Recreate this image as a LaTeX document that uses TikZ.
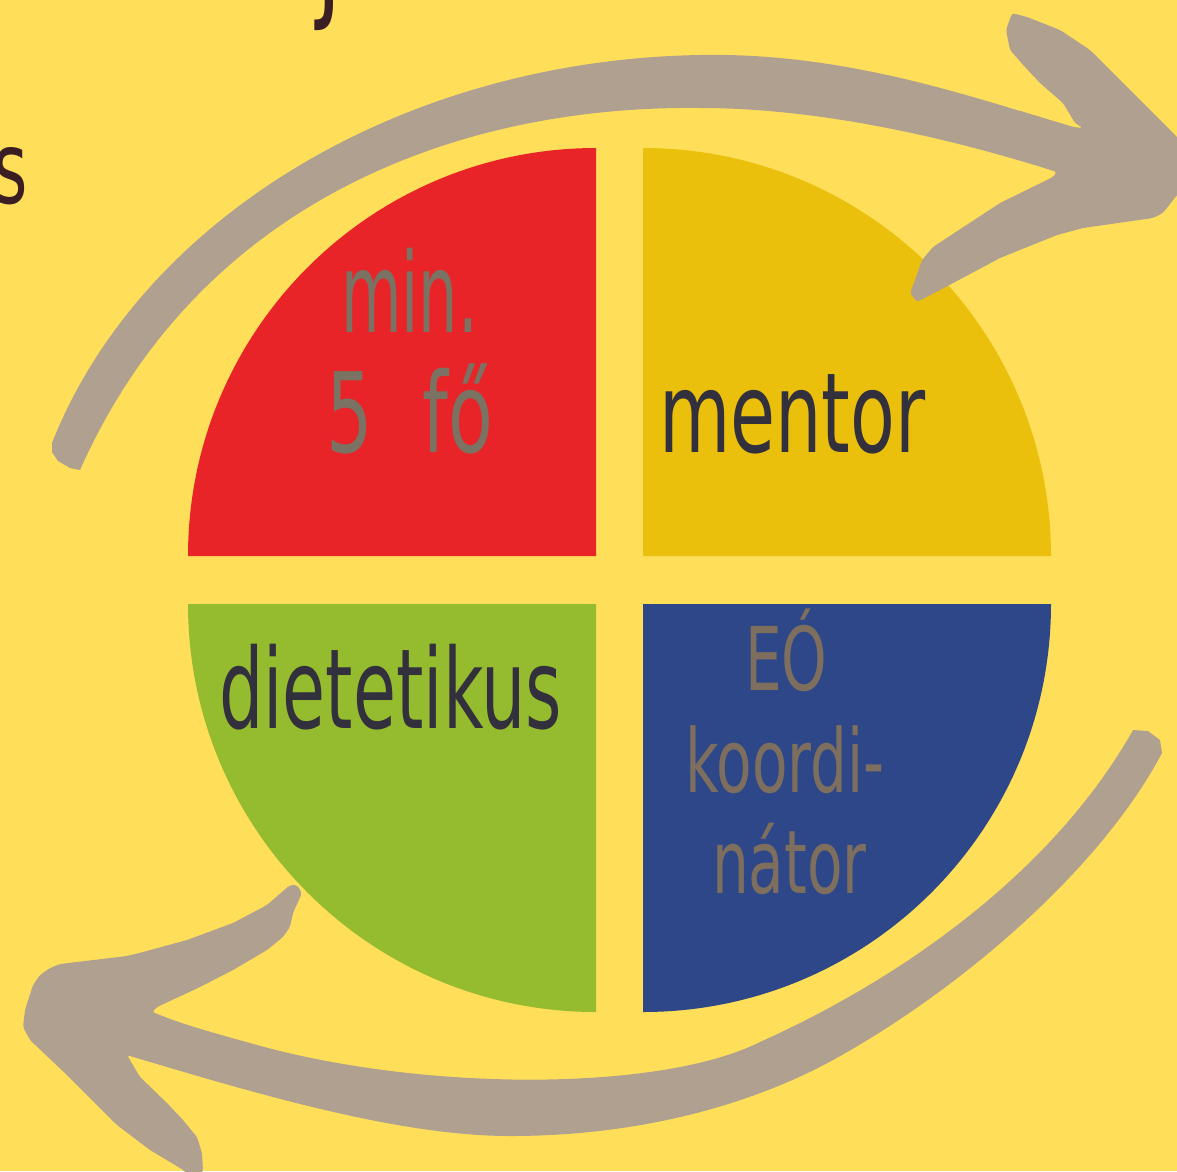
\documentclass[tikz,border=0pt]{standalone}
\usepackage{fontspec}
\newfontfamily\handA{DejaVu Sans}[FakeStretch=0.66]
\newfontfamily\handB{DejaVu Sans}[FakeStretch=0.56]
\newfontfamily\handC{DejaVu Sans}[FakeStretch=0.63]
\definecolor{bg}{HTML}{FFDE59}
\definecolor{qred}{HTML}{E92429}
\definecolor{qyellow}{HTML}{EAC00C}
\definecolor{qgreen}{HTML}{95BB2F}
\definecolor{qblue}{HTML}{2D4788}
\definecolor{arrowc}{HTML}{B0A090}
\definecolor{txtgray}{HTML}{7A7262}
\definecolor{txtdark}{HTML}{33303D}
\definecolor{txtbrown}{HTML}{7D6E5E}
\definecolor{titlec}{HTML}{3B1E24}
\begin{document}
\begin{tikzpicture}[x=1pt,y=-1pt,
  lbl/.style={anchor=base west,inner sep=0pt,outer sep=0pt},
  big/.style={font=\handA\fontsize{111}{120}\selectfont},
  small/.style={font=\handA\fontsize{88}{100}\selectfont},
  arrowshape/.style={fill=arrowc,draw=none}]
\useasboundingbox (0,0) rectangle (1177,1171);
\fill[bg] (0,0) rectangle (1177,1171);

% quadrants
\fill[qred] (188,556) arc[start angle=180,end angle=270,radius=408] -- (596,556) -- cycle;
\fill[qyellow] (643,148) arc[start angle=270,end angle=360,radius=408] -- (643,556) -- cycle;
\fill[qgreen] (188,604) arc[start angle=180,end angle=90,radius=408] -- (596,604) -- cycle;
\fill[qblue] (643,1012) arc[start angle=90,end angle=0,radius=408] -- (643,604) -- cycle;

% top arrow shaft
\fill[arrowshape] (52,443) .. controls (140,220) and (400,60) .. (700,55)
  .. controls (850,52) and (980,100) .. (1073,127)
  -- (1057,172)
  .. controls (950,138) and (820,108) .. (700,108)
  .. controls (460,105) and (200,200) .. (80,470)
  -- (70,468) -- (58,461) -- (52,452) -- cycle;
% top arrow head
\fill[arrowshape,rounded corners=3pt] (1083,128) -- (1075,123) -- (1063,103) -- (1040,83) -- (1025,67) -- (1010,50) -- (1006,30) -- (1012,13) -- (1027,17) -- (1060,30) -- (1090,50) -- (1127,87) -- (1177,137) -- (1195,160) -- (1185,190) -- (1177,195) -- (1163,213) -- (1153,218) -- (1083,228) -- (1057,235) -- (1000,258) -- (940,290) -- (917,302) -- (910,293) -- (915,280) -- (922,260) -- (933,247) -- (1000,203) -- (1053,177) -- (1057,172) -- (1020,158) -- (1017,110) -- (1073,127) -- cycle;

% bottom arrow shaft
\fill[arrowshape] (127,1055) .. controls (260,1095) and (400,1136) .. (510,1136)
  .. controls (650,1136) and (760,1100) .. (833,1060)
  .. controls (960,990) and (1100,870) .. (1162,753)
  -- (1160,740) -- (1148,731) -- (1133,730)
  .. controls (1060,860) and (920,970) .. (760,1042)
  .. controls (660,1092) and (420,1092) .. (250,1043)
  .. controls (210,1032) and (175,1022) .. (152,1012)
  -- cycle;
% bottom arrow head
\fill[arrowshape,rounded corners=3pt] (152,1012) -- (157,1007) -- (200,987) -- (233,970) -- (267,950) -- (283,937) -- (290,927) -- (293,913) -- (302,893) -- (297,885) -- (290,885) -- (267,905) -- (233,923) -- (187,940) -- (143,952) -- (127,956) -- (60,964) -- (50,968) -- (40,975) -- (33,985) -- (25,1010) -- (23,1027) -- (30,1040) -- (67,1075) -- (117,1125) -- (150,1150) -- (185,1171) -- (195,1190) -- (203,1171) -- (202,1153) -- (197,1137) -- (183,1120) -- (167,1103) -- (140,1077) -- (127,1055) -- (180,1070) -- (185,1025) -- cycle;

% labels
\node[lbl,font=\handB\fontsize{111}{120}\selectfont,text=txtgray] (min) at (341,332) {min.};
\node[lbl,big,text=txtgray] (fo) at (326,452) {5\hspace{50pt}fő};
\node[lbl,big,text=txtdark] (mentor) at (659,452) {mentor};
\node[lbl,font=\handC\fontsize{111}{120}\selectfont,text=txtdark] (diet) at (219,728) {dietetikus};
\node[lbl,small,text=txtbrown] (eo) at (745,690) {EÓ};
\node[lbl,small,text=txtbrown] (koord) at (685,792) {koordi-};
\node[lbl,small,text=txtbrown] (nator) at (712,893) {nátor};

% cut-off title fragments
\node[lbl,font=\handA\fontsize{140}{150}\selectfont,text=titlec] (titlej) at (316,1) {j};
\node[anchor=base east,inner sep=0pt,font=\handA\fontsize{100}{110}\selectfont,text=titlec] (titles) at (28,203) {s};
\end{tikzpicture}
\end{document}
